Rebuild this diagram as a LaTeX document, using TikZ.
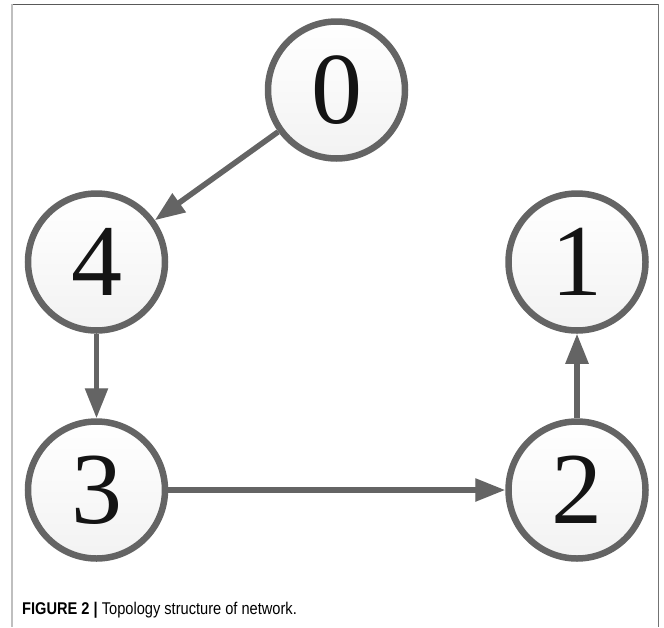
\documentclass[tikz,border=0pt]{standalone}
\usepackage{fontspec}
\setmainfont{Liberation Serif}
\newfontfamily\capfont[FakeStretch=0.86]{Liberation Sans}
\usetikzlibrary{arrows.meta}
\definecolor{edgegray}{HTML}{646464}
\definecolor{shadegray}{HTML}{E4E4E4}
\tikzset{
  vertex/.style={circle, draw=edgegray, line width=6.5pt, minimum size=137pt,
    inner sep=0pt, top color=white, bottom color=black!5,
    font=\fontsize{102}{102}\selectfont, text=black!92},
  link/.style={draw=edgegray, line width=5.5pt,
    -{Triangle[length=30pt, width=22pt]}},
  linkshadow/.style={draw=shadegray, line width=5.5pt,
    -{Triangle[length=30pt, width=22pt]}, shift={(2pt,-2pt)}},
}
\begin{document}
\begin{tikzpicture}[x=1pt, y=-1pt]
  \useasboundingbox (0,0) rectangle (664,627);
  % frame
  \draw[color=black!65, line width=1.5pt] (11,4.5) -- (659,4.5);
  \draw[color=black!25, line width=2pt] (11.5,4) -- (11.5,627);
  \draw[color=black!55, line width=1.5pt] (658.5,4) -- (658.5,627);
  % vertices
  \node[vertex] (n0) at (336.5,90) {0};
  \node[vertex] (n4) at (96.5,262) {4};
  \node[vertex] (n1) at (577,262) {1};
  \node[vertex] (n3) at (96.5,490) {3};
  \node[vertex] (n2) at (577,490) {2};
  % faint shadows of the links
  \path[linkshadow] (n0) -- (n4);
  \path[linkshadow] (n4) -- (n3);
  \path[linkshadow] (n3) -- (n2);
  \path[linkshadow] (n2) -- (n1);
  % links
  \path[link] (n0) -- (n4);
  \path[link] (n4) -- (n3);
  \path[link] (n3) -- (n2);
  \path[link] (n2) -- (n1);
  % caption
  \node[anchor=base west, inner sep=0pt, font=\capfont\fontsize{17}{20}\selectfont]
    (cap) at (22,614) {\textbf{FIGURE 2 |} Topology structure of network.};
\end{tikzpicture}
\end{document}
